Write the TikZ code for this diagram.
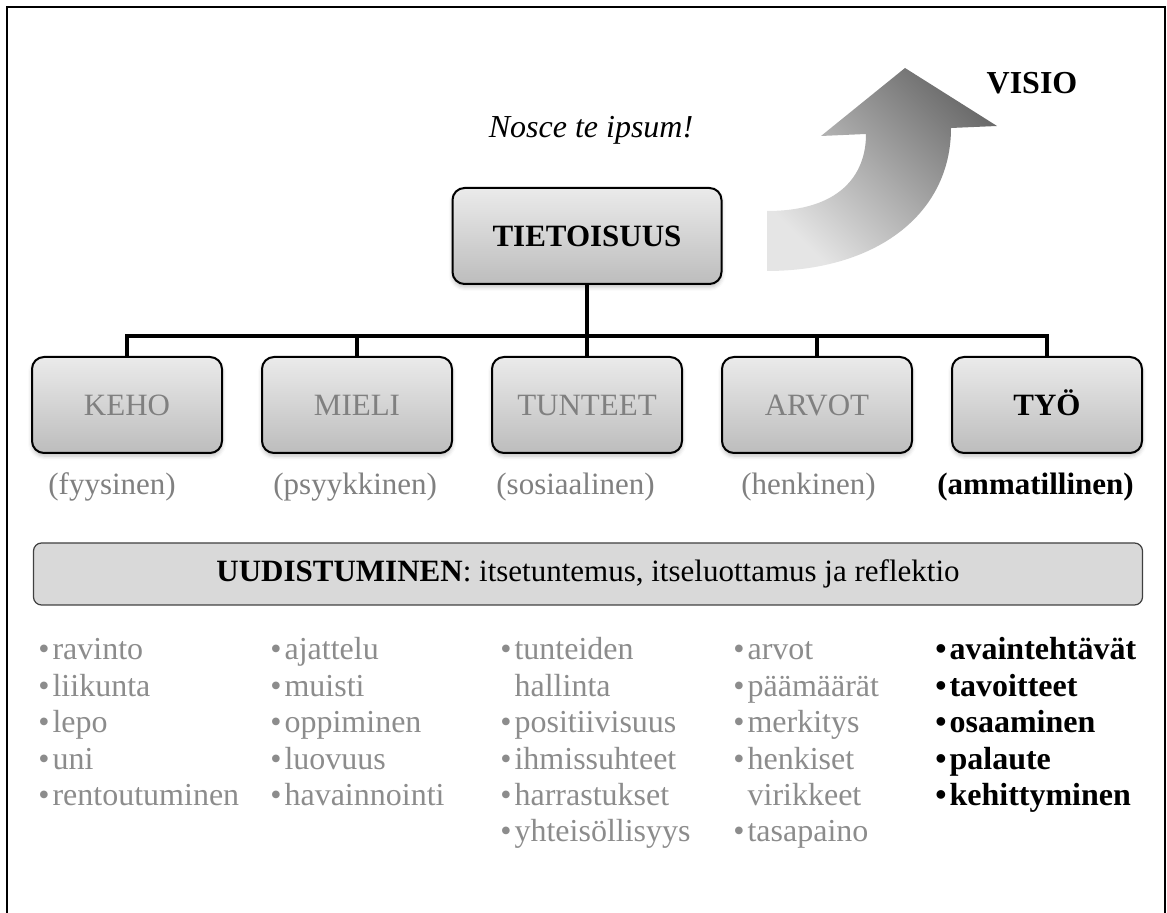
\documentclass[tikz,border=0pt]{standalone}
\usepackage{fontspec}
\setmainfont{Liberation Serif}
\usepackage{tikz}
\usetikzlibrary{positioning,calc,shadows.blur}
\newcommand{\pallo}{\strut\textbullet\hspace{1.5pt}}

\begin{document}
\begin{tikzpicture}[x=0.5pt,y=-0.5pt,
 o/.style={draw,line width=1pt,rounded corners=6pt,top color=black!8,bottom color=black!26,minimum width=95pt,minimum height=48pt,
  text height=10.5pt,text depth=0pt,font=\fontsize{15.5}{18}\selectfont,text=black!50,
  blur shadow={shadow xshift=0pt,shadow yshift=-1.5pt,shadow blur radius=2pt,shadow opacity=25}},
 al/.style={font=\fontsize{15.5}{18}\selectfont,text=black!50,anchor=west,inner sep=0pt},
 li/.style={font=\fontsize{16}{18.2}\selectfont,text=black!45,align=left,anchor=north west,inner sep=0pt},
 yhd/.style={line width=1.6pt}]
\useasboundingbox (0,0) rectangle (1167,913);
\draw[line width=1.2pt] (7,913) -- (7,7) -- (1165,7) -- (1165,913);
\shade[top color=black!58,bottom color=black!10,shading angle=-45]
 (767,271) -- (767,211) .. controls (840,211) and (866,175) .. (866,134) -- (821,136) -- (905,68)
 -- (997,126) -- (951,128) .. controls (951,215) and (875,271) .. (767,271) -- cycle;
\node[font=\fontsize{16}{18}\selectfont\bfseries] (visio) at (1032,83) {VISIO};
\node[font=\fontsize{16}{18}\selectfont\itshape] (nosce) at (591,130) {Nosce te ipsum!};
\node[o,minimum width=134.5pt,text=black,font=\fontsize{15.5}{18}\selectfont\bfseries] (tieto) at (587,236) {TIETOISUUS};
\node[o] (keho) at (127,405) {KEHO};
\node[o,right=19pt of keho] (mieli) {MIELI};
\node[o,right=19pt of mieli] (tunteet) {TUNTEET};
\node[o,right=19pt of tunteet] (arvot) {ARVOT};
\node[o,right=19pt of arvot,text=black,font=\fontsize{15.5}{18}\selectfont\bfseries] (tyo) {TYÖ};
\coordinate (haara) at (587,336);
\draw[line width=2.2pt] (tieto.south) -- (haara);
\foreach \n in {keho,mieli,tunteet,arvot,tyo}
 \draw[yhd] (tieto.south) -- (haara) -| (\n.north);
\node[al] (s1) at (48,487) {(fyysinen)};
\node[al] (s2) at (273,487) {(psyykkinen)};
\node[al] (s3) at (496,487) {(sosiaalinen)};
\node[al] (s4) at (741,487) {(henkinen)};
\node[al,text=black,font=\fontsize{15.5}{18}\selectfont\bfseries] (s5) at (937,487) {(ammatillinen)};
\node[draw=black!75,line width=0.6pt,fill=black!15,rounded corners=4pt,minimum width=554.5pt,minimum height=31pt,font=\fontsize{15.5}{18}\selectfont] (uud) at (588,574)
 {\textbf{UUDISTUMINEN}: itsetuntemus, itseluottamus ja reflektio};
\node[li] (lkeho) at (38,634) {\pallo ravinto\\\pallo liikunta\\\pallo lepo\\\pallo uni\\\pallo rentoutuminen};
\node[li] (lmieli) at (270,634) {\pallo ajattelu\\\pallo muisti\\\pallo oppiminen\\\pallo luovuus\\\pallo havainnointi};
\node[li] (ltunteet) at (500,634) {\pallo tunteiden\\\phantom{\pallo}hallinta\\\pallo positiivisuus\\\pallo ihmissuhteet\\\pallo harrastukset\\\pallo yhteisöllisyys};
\node[li] (larvot) at (733,634) {\pallo arvot\\\pallo päämäärät\\\pallo merkitys\\\pallo henkiset\\\phantom{\pallo}virikkeet\\\pallo tasapaino};
\node[li,text=black,font=\fontsize{16}{18.2}\selectfont\bfseries] (ltyo) at (935,634) {\pallo avaintehtävät\\\pallo tavoitteet\\\pallo osaaminen\\\pallo palaute\\\pallo kehittyminen};
\end{tikzpicture}
\end{document}
